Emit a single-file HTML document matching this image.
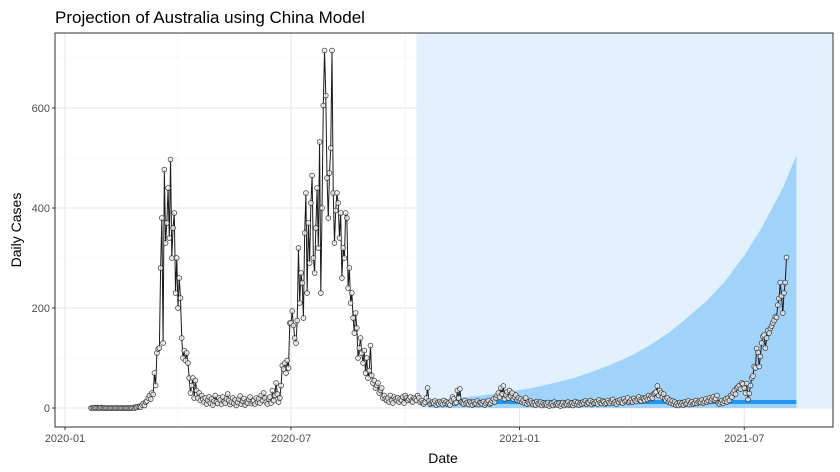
<!DOCTYPE html>
<html><head><meta charset="utf-8">
<style>
html,body{margin:0;padding:0;background:#fff;}
svg{display:block;font-family:"Liberation Sans",Arial,sans-serif;}
</style></head>
<body>
<svg id="chart" width="840" height="472" viewBox="0 0 840 472">
<text x="55" y="23" font-size="17" fill="#000">Projection of Australia using China Model</text>
<text x="443" y="463" font-size="14" text-anchor="middle" fill="#000">Date</text>
<text transform="translate(21,230) rotate(-90)" font-size="14" text-anchor="middle" fill="#000">Daily Cases</text>
<g id="grid"></g>
<g id="proj"></g>
<g id="series"></g>
<g id="axes"></g>
</svg>
<script>
const startDate = "2020-01-22";
const cases = [
0,0,0,1,0,1,0,0,1,0,0,0,0,0,0,0,0,0,0,0,0,0,0,0,0,0,0,0,0,0,0,0,0,0,1,0,2,1,3,
3,2,6,9,5,12,14,20,25,18,30,27,70,45,110,118,120,280,380,130,477,330,370,440,340,497,300,360,390,230,300,200,260,220,140,100,115,95,110,90,60,30,45,60,20,55,35,20,30,15,25,18,
12,20,8,15,22,10,18,6,14,25,12,9,20,16,8,22,13,10,18,28,15,7,12,20,9,16,5,11,18,24,8,14,19,6,12,10,17,22,9,13,15,8,20,12,18,10,25,15,30,20,12,8,18,22,10,
35,15,25,50,28,12,20,45,85,78,90,70,95,80,170,
170,194,165,140,130,175,320,210,270,250,180,350,430,230,370,290,410,465,300,270,360,440,320,532,230,400,605,715,625,460,380,470,520,715,430,330,395,430,410,340,
390,260,320,300,390,380,240,280,210,230,180,150,190,160,100,120,140,110,90,115,70,100,60,75,125,65,50,55,40,45,50,30,35,40,20,
25,18,15,20,12,25,15,10,22,18,15,20,12,18,15,22,10,25,20,15,18,22,14,12,20,18,15,25,20,12,
15,10,8,12,20,40,14,8,10,12,
9,14,6,11,8,13,10,7,15,9,
12,8,10,6,14,22,18,9,11,35,
20,38,12,10,8,15,9,11,7,13,
10,6,12,8,9,14,7,11,10,8,
13,6,9,12,15,8,10,14,18,12,
20,25,30,22,40,28,44,18,26,32,
20,35,24,30,18,22,26,16,20,14,
18,12,15,10,20,8,12,9,14,10,
7,11,6,13,9,8,12,5,10,7,
9,6,11,4,8,10,5,12,7,9,
6,10,4,8,11,5,9,7,12,6,
8,10,5,9,13,7,11,6,10,8,
12,9,14,8,11,10,15,7,12,9,
10,13,8,16,11,9,14,12,8,10,
15,11,9,13,17,10,12,8,14,11,
16,12,10,18,13,15,20,11,14,17,
12,19,15,13,18,22,16,14,20,18,
15,21,17,25,19,23,20,28,30,32,
44,25,35,30,22,28,18,15,20,12,
16,10,14,8,12,6,9,5,11,7,
10,6,12,8,9,14,7,11,13,8,
10,15,9,12,14,11,16,10,13,18,
12,15,20,14,18,22,16,19,25,
10,8,12,15,10,14,18,12,20,15,25,22,30,35,28,40,42,45,38,50,48,40,30,49,17,29,45,60,64,83,80,119,111,83,103,130,143,146,120,140,155,150,159,164,170,175,183,181,206,219,251,224,190,230,251,301
];
const projWindowStart = "2020-10-10";
const ribbonDates = ["2020-10-19","2020-11-01","2020-11-15","2020-12-01","2020-12-15","2021-01-01","2021-01-15","2021-02-01","2021-02-15","2021-03-01","2021-03-15","2021-04-01","2021-04-15","2021-05-01","2021-05-15","2021-06-01","2021-06-15","2021-07-01","2021-07-15","2021-08-01","2021-08-12"];
const ribbonUpper = [15,17.5,20.5,25,29,36,42,52,61,73,86,105,124,150,178,215,252,305,360,440,505];
const ribbonLower = [0,0,0,0,0,0,0,0,0,0,0,0,0,0,0,0,0,0,0,0,0];
const fitValue = [12,12,12,12,12,12,12,12,12,12,12,12,12,12,12,12,12,12,12,12,12];
const yTicks = [0,200,400,600];
const yMinor = [100,300,500,700];
const xTicks = ["2020-01-01","2020-07-01","2021-01-01","2021-07-01"];
const xTickLabels = ["2020-01","2020-07","2021-01","2021-07"];
const xMinor = ["2020-04-01","2020-10-01","2021-04-01"];

const NS="http://www.w3.org/2000/svg";
const P={l:55,r:833,t:33,b:427};
const base=Date.UTC(2020,0,1);
function dayOf(s){const a=s.split('-');return (Date.UTC(+a[0],+a[1]-1,+a[2])-base)/864e5;}
function xs(d){return 65+d*1.2418;}
function ys(v){return 408-v*0.5;}
function mk(tag,attrs,parent){const e=document.createElementNS(NS,tag);for(const k in attrs)e.setAttribute(k,attrs[k]);parent.appendChild(e);return e;}
const grid=document.getElementById('grid'),proj=document.getElementById('proj'),ser=document.getElementById('series'),axes=document.getElementById('axes');

yMinor.forEach(v=>{const l=mk('line',{x1:P.l,x2:P.r,y1:ys(v),y2:ys(v),stroke:'#f2f2f2','stroke-width':0.6},grid);
});
xMinor.forEach(d=>{const x=xs(dayOf(d));const l=mk('line',{x1:x,x2:x,y1:P.t,y2:P.b,stroke:'#f2f2f2','stroke-width':0.6},grid);
});
yTicks.forEach(v=>{const l=mk('line',{x1:P.l,x2:P.r,y1:ys(v),y2:ys(v),stroke:'#e6e6e6','stroke-width':1},grid);
});
xTicks.forEach(d=>{const x=xs(dayOf(d));const l=mk('line',{x1:x,x2:x,y1:P.t,y2:P.b,stroke:'#e6e6e6','stroke-width':1},grid);
});

const wx=xs(dayOf(projWindowStart));
const win=mk('rect',{x:wx,y:P.t,width:P.r-wx,height:ys(0)-P.t,fill:'#ddeffd','fill-opacity':0.85},proj);

let pts=[];
ribbonDates.forEach((d,i)=>pts.push(xs(dayOf(d)).toFixed(1)+','+ys(ribbonUpper[i]).toFixed(1)));
for(let i=ribbonDates.length-1;i>=0;i--)pts.push(xs(dayOf(ribbonDates[i])).toFixed(1)+','+ys(ribbonLower[i]).toFixed(1));
const rib=mk('polygon',{points:pts.join(' '),fill:'#9fd3fa'},proj);

const fl=mk('polyline',{points:ribbonDates.map((d,i)=>xs(dayOf(d)).toFixed(1)+','+ys(fitValue[i]).toFixed(1)).join(' '),fill:'none',stroke:'#2196f3','stroke-width':4},proj);


const s0=dayOf(startDate);
const line=mk('polyline',{points:cases.map((v,i)=>xs(s0+i).toFixed(2)+','+ys(v).toFixed(2)).join(' '),fill:'none',stroke:'#1a1a1a','stroke-width':1},ser);

cases.forEach((v,i)=>{const c=mk('circle',{cx:xs(s0+i).toFixed(2),cy:ys(v).toFixed(2),r:2.4,fill:'#f4f4f4','fill-opacity':0.75,stroke:'#333','stroke-width':0.7},ser);
});

const fr=mk('rect',{x:P.l,y:P.t,width:P.r-P.l,height:P.b-P.t,fill:'none',stroke:'#333','stroke-width':1},axes);

yTicks.forEach(v=>{const t=mk('line',{x1:P.l-3,x2:P.l,y1:ys(v),y2:ys(v),stroke:'#333'},axes);

const tx=mk('text',{x:P.l-5,y:ys(v)+4,'text-anchor':'end','font-size':11,fill:'#4d4d4d'},axes);tx.textContent=v;
});
xTicks.forEach((d,i)=>{const x=xs(dayOf(d));const t=mk('line',{x1:x,x2:x,y1:P.b,y2:P.b+3,stroke:'#333'},axes);

const tx=mk('text',{x:x,y:P.b+15,'text-anchor':'middle','font-size':11,fill:'#4d4d4d'},axes);tx.textContent=xTickLabels[i];
});
</script>
</body></html>
